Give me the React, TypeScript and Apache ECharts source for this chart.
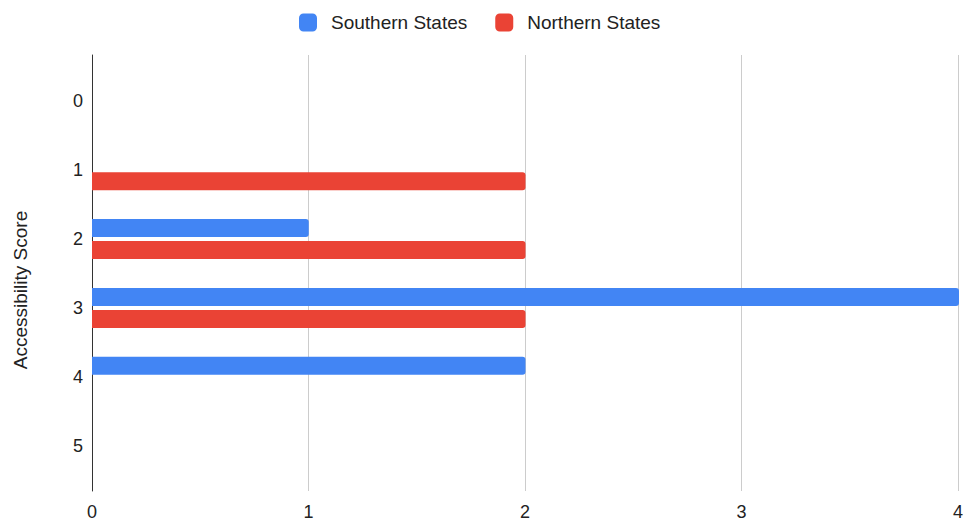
import React, { useEffect, useRef } from "react";
import * as echarts from "echarts";

const categories = ["0", "1", "2", "3", "4", "5"];
const southernStates = [0, 0, 1, 4, 2, 0];
const northernStates = [0, 2, 2, 2, 0, 0];
const xTicks = [0, 1, 2, 3, 4];
const yAxisTitle = "Accessibility Score";
const seriesNames = ["Southern States", "Northern States"];

export default function App() {
  const ref = useRef<HTMLDivElement>(null);
  useEffect(() => {
    if (!ref.current) return;
    const chart = echarts.init(ref.current, null, { renderer: "svg" });
    const font = "Arial, 'Liberation Sans', sans-serif";
    chart.setOption({
      animation: false,
      backgroundColor: "#ffffff",
      textStyle: { fontFamily: font },
      legend: {
        top: 8,
        left: 294,
        itemWidth: 18,
        itemHeight: 18,
        itemGap: 28,
        icon: "roundRect",
        textStyle: { fontSize: 19, color: "#222", fontFamily: font, padding: [0, 0, 0, 9] },
        data: seriesNames,
      },
      grid: [
        { left: 92, right: 7, top: 55, bottom: 36 },
        { left: 92, right: 7, top: 67, bottom: 47 },
      ],
      xAxis: [
        {
          type: "value",
          gridIndex: 0,
          min: xTicks[0],
          max: xTicks[xTicks.length - 1],
          interval: 1,
          axisLine: { show: false },
          axisTick: { show: false },
          splitLine: { show: true, lineStyle: { color: "#cccccc", width: 1 } },
          axisLabel: { fontSize: 18, color: "#222", margin: 12, fontFamily: font },
        },
        {
          type: "value",
          gridIndex: 1,
          min: xTicks[0],
          max: xTicks[xTicks.length - 1],
          show: false,
        },
      ],
      yAxis: [
        {
          type: "value",
          gridIndex: 0,
          min: 0,
          max: 1,
          axisLine: { show: true, lineStyle: { color: "#333333", width: 1 } },
          axisTick: { show: false },
          axisLabel: { show: false },
          splitLine: { show: false },
        },
        {
          type: "category",
          gridIndex: 1,
          inverse: true,
          data: categories,
          axisLine: { show: false },
          axisTick: { show: false },
          splitLine: { show: false },
          axisLabel: { fontSize: 18, color: "#222", margin: 9, fontFamily: font },
        },
      ],
      graphic: [
        {
          type: "text",
          x: 20,
          y: 290,
          rotation: Math.PI / 2,
          style: {
            text: yAxisTitle,
            fontSize: 19,
            fill: "#222",
            fontFamily: font,
            align: "center",
            verticalAlign: "middle",
          },
        },
      ],
      series: [
        {
          name: seriesNames[0],
          type: "bar",
          xAxisIndex: 1,
          yAxisIndex: 1,
          data: southernStates,
          barWidth: 18,
          barGap: "22%",
          itemStyle: { color: "#4285F4", borderRadius: [0, 3, 3, 0] },
        },
        {
          name: seriesNames[1],
          type: "bar",
          xAxisIndex: 1,
          yAxisIndex: 1,
          data: northernStates,
          barWidth: 18,
          barGap: "22%",
          itemStyle: { color: "#EA4335", borderRadius: [0, 3, 3, 0] },
        },
      ],
    });
    return () => chart.dispose();
  }, []);
  return <div ref={ref} style={{ width: 966, height: 527, position: "absolute", left: 0, top: 0 }} />;
}
